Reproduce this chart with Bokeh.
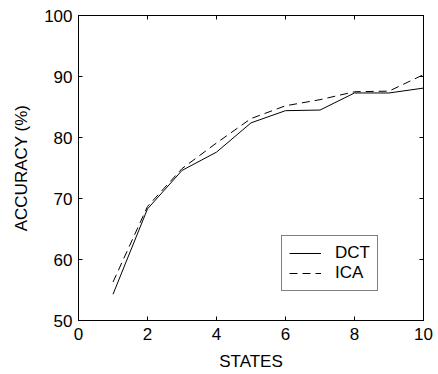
from bokeh.plotting import figure
from bokeh.models import LinearAxis, Legend, LegendItem, FixedTicker, Range1d
from bokeh.embed import file_html
from bokeh.resources import INLINE

states = [1, 2, 3, 4, 5, 6, 7, 8, 9, 10]
dct = [54.3, 68.3, 74.6, 77.6, 82.4, 84.4, 84.5, 87.3, 87.3, 88.1]
ica = [56.3, 68.7, 74.9, 79.1, 83.1, 85.2, 86.2, 87.5, 87.6, 90.3]
x_ticks = [0, 2, 4, 6, 8, 10]
y_ticks = [50, 60, 70, 80, 90, 100]

FONT = "Liberation Sans"
FS = "17px"

p = figure(width=438, height=374, output_backend="svg", toolbar_location=None,
           x_range=Range1d(0, 10), y_range=Range1d(50, 100),
           min_border_left=78, min_border_right=15, min_border_top=15, min_border_bottom=54,
           x_axis_label="STATES", y_axis_label="ACCURACY (%)")
p.background_fill_color = "white"
p.border_fill_color = "white"
p.outline_line_color = "black"
p.outline_line_width = 1
p.grid.visible = False

for ax in p.xaxis + p.yaxis:
    ax.major_tick_in = 4
    ax.major_tick_out = 0
    ax.minor_tick_line_color = None
    ax.axis_line_color = "black"
    ax.major_label_text_font = FONT
    ax.major_label_text_font_size = FS
    ax.major_label_text_color = "black"
    ax.axis_label_text_font = FONT
    ax.axis_label_text_font_size = FS
    ax.axis_label_text_font_style = "normal"
    ax.axis_label_text_color = "black"
p.xaxis.ticker = FixedTicker(ticks=x_ticks)
p.yaxis.ticker = FixedTicker(ticks=y_ticks)
p.xaxis.major_label_standoff = 7
p.yaxis.major_label_standoff = 6
p.xaxis.axis_label_standoff = 9
p.yaxis.axis_label_standoff = 10

top = LinearAxis(ticker=FixedTicker(ticks=x_ticks), major_label_text_font_size="0px",
                 major_tick_in=4, major_tick_out=0, minor_tick_line_color=None)
right = LinearAxis(ticker=FixedTicker(ticks=y_ticks), major_label_text_font_size="0px",
                   major_tick_in=4, major_tick_out=0, minor_tick_line_color=None)
top.major_label_text_alpha = 0
right.major_label_text_alpha = 0
p.add_layout(top, "above")
p.add_layout(right, "right")
p.min_border_top = 15
p.min_border_right = 15

r1 = p.line(states, dct, line_color="black", line_width=1)
r2 = p.line(states, ica, line_color="black", line_width=1, line_dash="8 5")

legend = Legend(items=[LegendItem(label="DCT", renderers=[r1]),
                       LegendItem(label="ICA", renderers=[r2])],
                location=(203, 29))
legend.label_text_font = FONT
legend.label_text_font_size = FS
legend.label_text_color = "black"
legend.border_line_color = "black"
legend.border_line_width = 1
legend.glyph_width = 32
legend.glyph_height = 20
legend.label_height = 20
legend.spacing = 0
legend.padding = 7
legend.margin = 0
legend.label_standoff = 14
legend.background_fill_alpha = 1
p.add_layout(legend, "center")

open("out.html", "w").write(file_html(p, INLINE))
